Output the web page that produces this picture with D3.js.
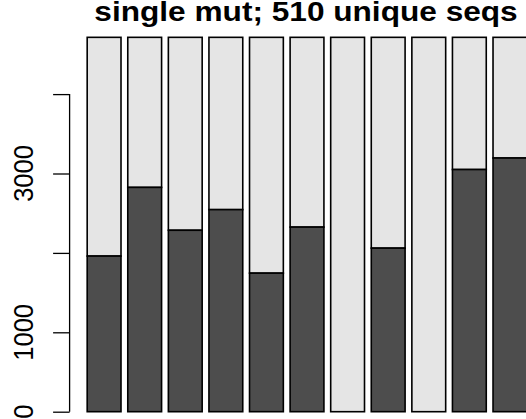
<!DOCTYPE html>
<html>
<head>
<meta charset="utf-8">
<script src="https://cdn.jsdelivr.net/npm/d3@7"></script>
<style>
  html, body { margin: 0; padding: 0; background: #ffffff; }
  svg { display: block; }
</style>
</head>
<body>
<svg id="chart" width="526" height="419"></svg>
<script>
// ---- data ----
const categories = ["1","2","3","4","5","6","7","8","9","10","11"];
const darkValues  = [1960, 2825, 2285, 2545, 1745, 2325, 0, 2060, 0, 3050, 3195];
const lightValues = [2755, 1890, 2430, 2170, 2970, 2390, 4715, 2655, 4715, 1665, 1520];
const tickValues  = [0, 1000, 2000, 3000, 4000];
const tickLabels  = ["0", "1000", "", "3000", ""];
const titleText   = "single mut; 510 unique seqs";

// ---- layout ----
const svg = d3.select("#chart");
const darkFill = "#4d4d4d", lightFill = "#e5e5e5";

// R-like barplot coordinates: bar i spans [0.2 + 1.2*i, 1.2 + 1.2*i]
const n = categories.length;
const xMin = 0.2, xMax = 1.2 * n;
const xPad = 0.04 * (xMax - xMin);
const x = d3.scaleLinear()
  .domain([xMin - xPad, xMax + xPad])
  .range([69.6, 69.6 + (xMax - xMin + 2 * xPad) * 33.82]);

const y = d3.scaleLinear().domain([0, 1000]).range([411.7, 332.3]);

const stacked = categories.map((c, i) => ({
  i,
  dark: darkValues[i],
  light: lightValues[i]
}));

const g = svg.append("g");

// light (upper) segments
g.selectAll("rect.light")
  .data(stacked)
  .join("rect")
  .attr("class", "light")
  .attr("x", d => x(xMin + 1.2 * d.i))
  .attr("width", d => x(xMin + 1.2 * d.i + 1) - x(xMin + 1.2 * d.i))
  .attr("y", d => y(d.dark + d.light))
  .attr("height", d => y(d.dark) - y(d.dark + d.light))
  .attr("fill", lightFill)
  .attr("stroke", "#000")
  .attr("stroke-width", 1.6);

// dark (lower) segments
g.selectAll("rect.dark")
  .data(stacked.filter(d => d.dark > 0))
  .join("rect")
  .attr("class", "dark")
  .attr("x", d => x(xMin + 1.2 * d.i))
  .attr("width", d => x(xMin + 1.2 * d.i + 1) - x(xMin + 1.2 * d.i))
  .attr("y", d => y(d.dark))
  .attr("height", d => y(0) - y(d.dark))
  .attr("fill", darkFill)
  .attr("stroke", "#000")
  .attr("stroke-width", 1.6);

// y axis
const axisX = x.range()[0];
const yAxis = d3.axisLeft(y)
  .tickValues(tickValues)
  .tickFormat(() => "")
  .tickSize(16.5)
  .tickSizeOuter(0);
const ax = svg.append("g")
  .attr("transform", `translate(${axisX},0)`)
  .call(yAxis);
ax.select(".domain")
  .attr("d", `M0,${y(tickValues[0])}V${y(tickValues[tickValues.length - 1])}`)
  .attr("stroke", "#000").attr("stroke-width", 1.3);
ax.selectAll(".tick line").attr("stroke", "#000").attr("stroke-width", 1.3);

// rotated tick labels (R style, las=0)
svg.append("g").selectAll("text")
  .data(tickValues.map((v, i) => ({ v, label: tickLabels[i] })).filter(d => d.label !== ""))
  .join("text")
  .attr("transform", d => `translate(33.3,${y(d.v)}) scale(1.12,1) rotate(-90)`)
  .attr("text-anchor", "middle")
  .attr("font-family", "'Liberation Sans', Arial, Helvetica, sans-serif")
  .attr("font-size", 25.5)
  .attr("fill", "#000")
  .text(d => d.label);

// title
svg.append("text")
  .attr("transform", `translate(${(x.range()[0] + x.range()[1]) / 2 - 1},21.4) scale(1.15,1)`)
  .attr("text-anchor", "middle")
  .attr("font-family", "'Liberation Sans', Arial, Helvetica, sans-serif")
  .attr("font-weight", "bold")
  .attr("font-size", 27.5)
  .attr("fill", "#000")
  .text(titleText);
</script>
</body>
</html>
